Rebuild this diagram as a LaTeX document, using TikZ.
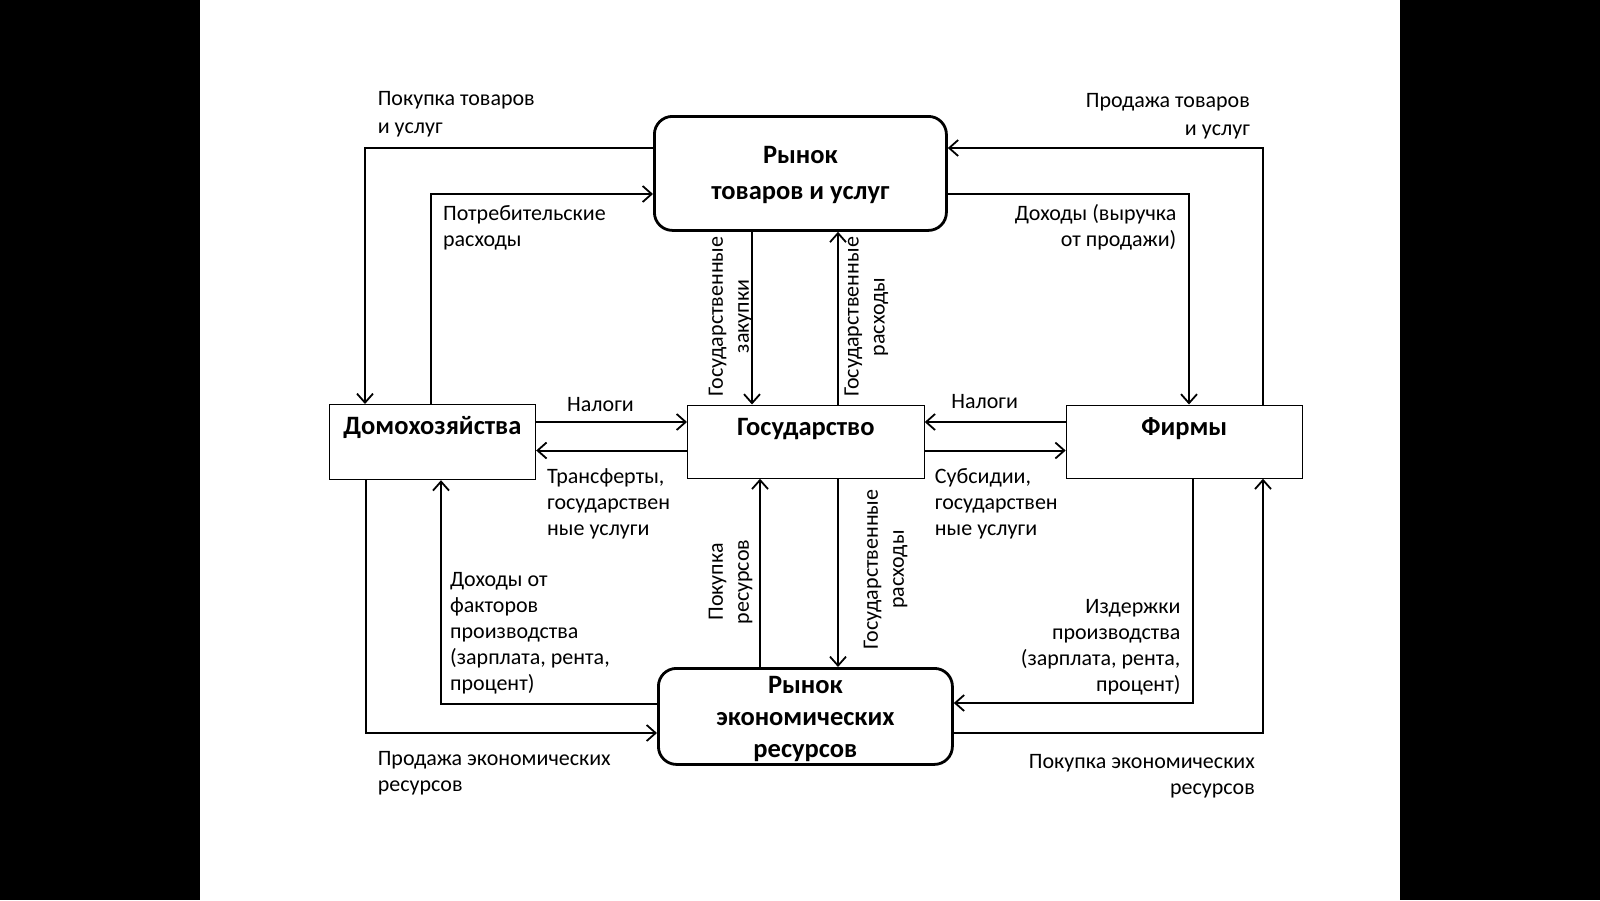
\documentclass[tikz,border=0pt]{standalone}
\usepackage{fontspec}
\setmainfont{Carlito}
\usetikzlibrary{arrows.meta}
\begin{document}
\begin{tikzpicture}[x=1pt,y=-1pt,
  thinbox/.style={draw, line width=1.2pt, inner sep=0pt, anchor=north west},
  thickbox/.style={draw, line width=2.8pt, rounded corners=18pt, inner sep=0pt, anchor=north west},
  boxlbl/.style={inner sep=0pt, align=center, font=\fontsize{26.5}{30}\selectfont\bfseries},
  lbl/.style={inner sep=0pt, font=\fontsize{22}{26}\selectfont},
  arr/.style={line width=2pt, -{Straight Barb[length=9pt,width=16pt,line width=1.8pt]}}]
\useasboundingbox (0,0) rectangle (1600,900);
\fill[black] (0,0) rectangle (1600,900);
\fill[white] (200,0) rectangle (1400,900);

% boxes
\node[thickbox, minimum width=292pt, minimum height=114pt] (mkt) at (653,115) {};
\node[thickbox, minimum width=294pt, minimum height=96pt] (res) at (657,667) {};
\node[thinbox, minimum width=206.5pt, minimum height=75pt] (hh) at (328.5,404) {};
\node[thinbox, minimum width=236.5pt, minimum height=73pt] (gov) at (687,404.5) {};
\node[thinbox, minimum width=236pt, minimum height=73pt] (firm) at (1065.7,404.5) {};
\node[boxlbl, font=\fontsize{26.5}{36}\selectfont\bfseries] (mktt) at ([yshift=-2pt]mkt.center) {Рынок\\товаров и услуг};
\node[boxlbl, font=\fontsize{26.5}{32}\selectfont\bfseries] (rest) at ([yshift=-2.5pt]res.center) {Рынок\\экономических\\ресурсов};
\node[boxlbl] (hht) at ([yshift=-23.5pt]hh.north) {Домохозяйства};
\node[boxlbl] (govt) at ([yshift=-24.5pt]gov.north) {Государство};
\node[boxlbl] (firmt) at ([yshift=-24pt]firm.north) {Фирмы};

% helper coordinates
\coordinate (c1) at (365,148);
\coordinate (c2) at (431,194);
\coordinate (c3) at (1189,194);
\coordinate (c4) at (1263,148);
\coordinate (c5) at (752,0);
\coordinate (c6) at (838,0);
\coordinate (y1) at (0,422);
\coordinate (y2) at (0,450.5);
\coordinate (c7) at (760,0);
\coordinate (c8) at (838,0);
\coordinate (c9) at (441,704);
\coordinate (c10) at (366,733);
\coordinate (c11) at (1193,703);
\coordinate (c12) at (1263,733);

% connectors
\draw[arr] (mkt.west |- c1) -| (hh.north -| c1);
\draw[arr] (hh.north -| c2) |- (mkt.west |- c2);
\draw[arr] (mkt.east |- c3) -| (firm.north -| c3);
\draw[arr] (firm.north -| c4) |- (mkt.east |- c4);
\draw[arr] (mkt.south -| c5) -- (gov.north -| c5);
\draw[arr] (gov.north -| c6) -- (mkt.south -| c6);
\draw[arr] (hh.east |- y1) -- (gov.west |- y1);
\draw[arr] (gov.west |- y2) -- (hh.east |- y2);
\draw[arr] (firm.west |- y1) -- (gov.east |- y1);
\draw[arr] (gov.east |- y2) -- (firm.west |- y2);
\draw[arr] (res.north -| c7) -- (gov.south -| c7);
\draw[arr] (gov.south -| c8) -- (res.north -| c8);
\draw[arr] (res.west |- c9) -| (hh.south -| c9);
\draw[arr] (hh.south -| c10) |- (res.west |- c10);
\draw[arr] (firm.south -| c11) |- (res.east |- c11);
\draw[arr] (res.east |- c12) -| (firm.south -| c12);

% labels
\node[lbl, anchor=west, align=left, font=\fontsize{22}{28.5}\selectfont] (l1) at (377.6,114.3) {Покупка товаров\\и услуг};
\node[lbl, anchor=west, align=left] (l2) at (442.9,227.6) {Потребительские\\расходы};
\node[lbl, anchor=east, align=right] (l3) at (1176.5,227.6) {Доходы (выручка\\от продажи)};
\node[lbl, anchor=east, align=right, font=\fontsize{22}{28}\selectfont] (l4) at (1250,115.8) {Продажа товаров\\и услуг};
\node[lbl, rotate=90, align=center] (l5) at (730.6,316.5) {Государственные\\закупки};
\node[lbl, rotate=90, align=center] (l6) at (866.3,317) {Государственные\\расходы};
\node[lbl] (l7) at (600.5,405) {Налоги};
\node[lbl, anchor=west, align=left] (l8) at (547,504) {Трансферты,\\государствен\\ные услуги};
\node[lbl] (l9) at (984.7,402) {Налоги};
\node[lbl, anchor=west, align=left] (l10) at (934.7,504) {Субсидии,\\государствен\\ные услуги};
\node[lbl, rotate=90, align=center] (l11) at (730.6,582) {Покупка\\ресурсов};
\node[lbl, rotate=90, align=center] (l12) at (885.7,569.5) {Государственные\\расходы};
\node[lbl, anchor=west, align=left] (l13) at (450,633.2) {Доходы от\\факторов\\производства\\(зарплата, рента,\\процент)};
\node[lbl, anchor=west, align=left] (l14) at (377.6,773.5) {Продажа экономических\\ресурсов};
\node[lbl, anchor=east, align=right] (l15) at (1180.6,647) {Издержки\\производства\\(зарплата, рента,\\процент)};
\node[lbl, anchor=east, align=right] (l16) at (1255,776) {Покупка экономических\\ресурсов};
\end{tikzpicture}
\end{document}
